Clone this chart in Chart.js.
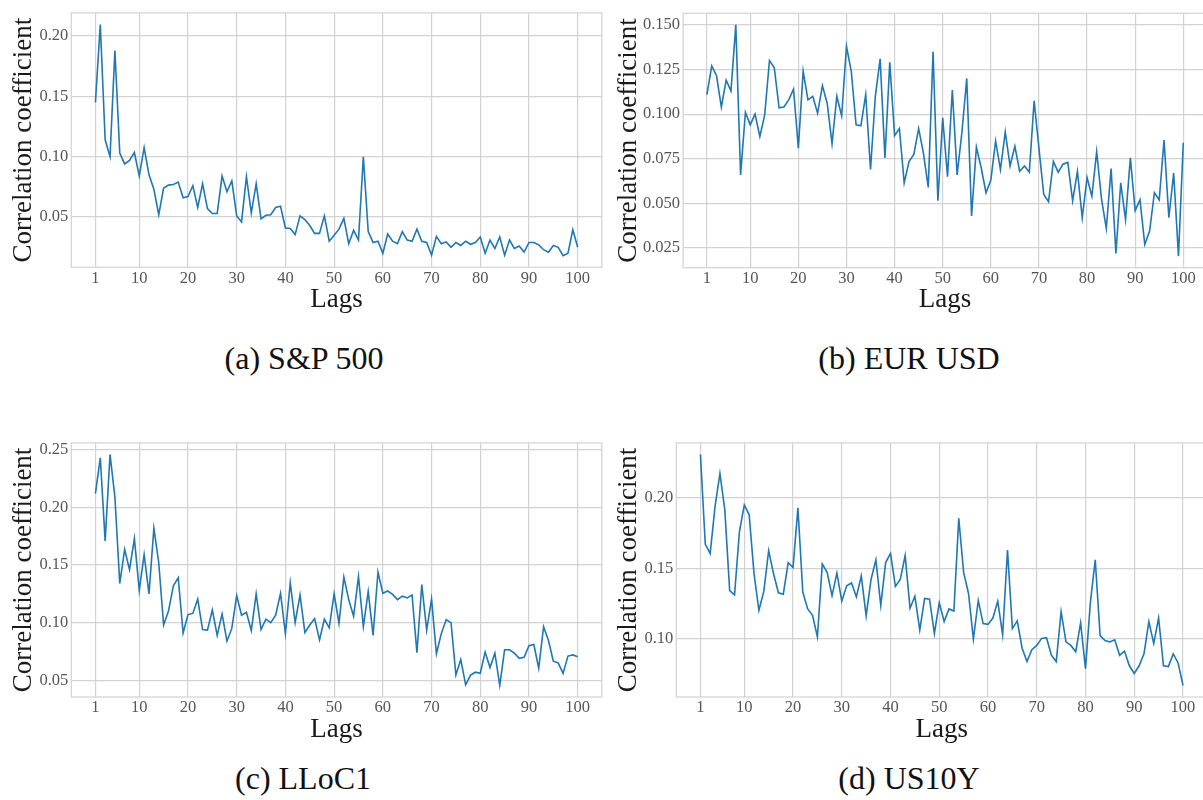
<!DOCTYPE html>
<html>
<head>
<meta charset="utf-8">
<script src="https://cdn.jsdelivr.net/npm/chart.js@4.4.1/dist/chart.umd.min.js"></script>
<style>
  html, body { margin: 0; padding: 0; background: #fff; overflow: hidden; width: 1203px; height: 800px; }
  canvas { position: absolute; }
  .caption {
    position: absolute;
    font-family: "Liberation Serif", serif;
    font-size: 32px;
    line-height: 32px;
    color: #111;
    white-space: nowrap;
    transform: translateX(-50%);
  }
</style>
</head>
<body>
<canvas id="sp500" width="604" height="320" style="left:0;top:0"></canvas>
<canvas id="eurusd" width="605" height="320" style="left:605px;top:0"></canvas>
<canvas id="lloc1" width="604" height="320" style="left:0;top:430px"></canvas>
<canvas id="us10y" width="605" height="320" style="left:605px;top:430px"></canvas>

<div class="caption" style="left:304px;top:342px">(a) S&amp;P 500</div>
<div class="caption" style="left:909px;top:342px">(b) EUR USD</div>
<div class="caption" style="left:303px;top:762px">(c) LLoC1</div>
<div class="caption" style="left:909px;top:762px">(d) US10Y</div>

<script>
const lags = Array.from({ length: 100 }, (_, i) => i + 1);
const lagTicks = [1, 10, 20, 30, 40, 50, 60, 70, 80, 90, 100];

const sp500 = [
  0.145, 0.2095, 0.114, 0.100, 0.188, 0.103, 0.094, 0.097, 0.1035, 0.084,
  0.1075, 0.085, 0.073, 0.052, 0.074, 0.0765, 0.077, 0.079, 0.066, 0.067,
  0.076, 0.058, 0.0775, 0.057, 0.053, 0.053, 0.084, 0.071, 0.080, 0.051,
  0.046, 0.0835, 0.0535, 0.0775, 0.0485, 0.0515, 0.052, 0.058, 0.059, 0.041,
  0.0405, 0.0355, 0.051, 0.048, 0.043, 0.0365, 0.0365, 0.051, 0.030, 0.035,
  0.040, 0.049, 0.028, 0.039, 0.031, 0.100, 0.038, 0.029, 0.030, 0.020,
  0.036, 0.030, 0.028, 0.038, 0.031, 0.030, 0.040, 0.030, 0.029, 0.0185,
  0.034, 0.028, 0.0295, 0.025, 0.029, 0.0265, 0.030, 0.0275, 0.029, 0.0335,
  0.020, 0.031, 0.024, 0.0335, 0.0185, 0.031, 0.024, 0.026, 0.021, 0.029,
  0.029, 0.027, 0.023, 0.021, 0.0265, 0.025, 0.018, 0.020, 0.0395, 0.025
];
const eurusd = [
  0.111, 0.127, 0.1215, 0.104, 0.119, 0.113, 0.150, 0.066, 0.101, 0.094,
  0.100, 0.0875, 0.0995, 0.130, 0.126, 0.1035, 0.104, 0.108, 0.114, 0.081,
  0.124, 0.108, 0.110, 0.1005, 0.116, 0.106, 0.0835, 0.110, 0.099, 0.138,
  0.124, 0.094, 0.0935, 0.111, 0.069, 0.110, 0.131, 0.0755, 0.129, 0.088,
  0.092, 0.0615, 0.0735, 0.0775, 0.092, 0.078, 0.059, 0.135, 0.0515, 0.098,
  0.065, 0.1135, 0.066, 0.090, 0.120, 0.043, 0.0815, 0.070, 0.056, 0.063,
  0.085, 0.069, 0.090, 0.071, 0.082, 0.068, 0.071, 0.0675, 0.1075, 0.081,
  0.055, 0.051, 0.0735, 0.0675, 0.072, 0.073, 0.0515, 0.068, 0.042, 0.0645,
  0.054, 0.079, 0.0525, 0.036, 0.0695, 0.022, 0.0615, 0.041, 0.0755, 0.046,
  0.052, 0.027, 0.0345, 0.056, 0.052, 0.0855, 0.042, 0.067, 0.0205, 0.084
];
const lloc1 = [
  0.212, 0.243, 0.171, 0.246, 0.209, 0.134, 0.1635, 0.146, 0.173, 0.128,
  0.159, 0.125, 0.182, 0.152, 0.098, 0.110, 0.132, 0.139, 0.091, 0.107,
  0.108, 0.1205, 0.094, 0.0935, 0.111, 0.089, 0.1075, 0.084, 0.095, 0.1235,
  0.1065, 0.109, 0.093, 0.125, 0.094, 0.103, 0.100, 0.1065, 0.1255, 0.0905,
  0.1345, 0.100, 0.124, 0.0915, 0.098, 0.1035, 0.085, 0.103, 0.0955, 0.125,
  0.0995, 0.1395, 0.120, 0.1055, 0.140, 0.0965, 0.127, 0.089, 0.144, 0.1255,
  0.1275, 0.1245, 0.120, 0.123, 0.1215, 0.124, 0.074, 0.133, 0.0935, 0.1205,
  0.073, 0.0905, 0.1025, 0.100, 0.0545, 0.068, 0.046, 0.0545, 0.057, 0.056,
  0.0745, 0.061, 0.0735, 0.0455, 0.0765, 0.0765, 0.0735, 0.069, 0.070, 0.080,
  0.081, 0.0605, 0.0965, 0.0845, 0.0665, 0.065, 0.056, 0.071, 0.072, 0.0705
];
const us10y = [
  0.231, 0.167, 0.1605, 0.194, 0.2175, 0.1915, 0.134, 0.131, 0.176, 0.195,
  0.188, 0.146, 0.120, 0.1335, 0.1625, 0.146, 0.1325, 0.1315, 0.154, 0.1505,
  0.193, 0.133, 0.121, 0.1165, 0.101, 0.153, 0.147, 0.1305, 0.1465, 0.1265,
  0.1375, 0.1395, 0.1295, 0.1445, 0.116, 0.142, 0.156, 0.1235, 0.154, 0.1605,
  0.137, 0.142, 0.159, 0.1215, 0.130, 0.106, 0.1285, 0.128, 0.1035, 0.1255,
  0.112, 0.121, 0.1195, 0.1855, 0.147, 0.132, 0.0995, 0.127, 0.1105, 0.110,
  0.1145, 0.1265, 0.1025, 0.163, 0.107, 0.1125, 0.093, 0.0835, 0.092, 0.095,
  0.100, 0.1005, 0.088, 0.0835, 0.119, 0.0975, 0.095, 0.0905, 0.111, 0.0785,
  0.1255, 0.156, 0.102, 0.0985, 0.0975, 0.099, 0.088, 0.091, 0.0805, 0.075,
  0.0805, 0.089, 0.112, 0.0965, 0.1145, 0.0805, 0.080, 0.089, 0.0825, 0.0665
];

const sp500Ticks = [0.05, 0.10, 0.15, 0.20];
const eurusdTicks = [0.025, 0.050, 0.075, 0.100, 0.125, 0.150];
const lloc1Ticks = [0.05, 0.10, 0.15, 0.20, 0.25];
const us10yTicks = [0.10, 0.15, 0.20];

const SERIF = '"Liberation Serif", "Times New Roman", serif';
const GRID = '#d2d2d2';

Chart.defaults.font.family = SERIF;

// 5% padding on each side of the data, like matplotlib's default margins
function padded(values) {
  const lo = Math.min(...values), hi = Math.max(...values);
  const m = (hi - lo) * 0.05;
  return [lo - m, hi + m];
}

// light frame round the plot area
const frame = {
  id: 'frame',
  beforeDatasetsDraw(chart) {
    const { ctx, chartArea: a } = chart;
    ctx.save();
    ctx.strokeStyle = GRID;
    ctx.lineWidth = 1.2;
    ctx.strokeRect(a.left, a.top, a.right - a.left, a.bottom - a.top);
    ctx.restore();
  }
};

function makePanel(id, values, yTicks, decimals, box) {
  const [xMin, xMax] = padded(lags);
  const [yMin, yMax] = padded(values);
  return new Chart(document.getElementById(id), {
    type: 'line',
    data: {
      datasets: [{
        data: lags.map((lag, i) => ({ x: lag, y: values[i] })),
        borderColor: '#1f77b4',
        borderWidth: 1.6,
        pointRadius: 0,
        tension: 0,
        fill: false
      }]
    },
    options: {
      responsive: false,
      animation: false,
      devicePixelRatio: 1,
      layout: { padding: { top: box.top, right: box.right, left: 0, bottom: 0 } },
      plugins: { legend: { display: false }, tooltip: { enabled: false } },
      scales: {
        x: {
          type: 'linear',
          min: xMin,
          max: xMax,
          afterBuildTicks: s => { s.ticks = lagTicks.map(v => ({ value: v })); },
          afterFit: s => { s.height = box.xAxis; },
          grid: { color: GRID, lineWidth: 1.2, drawTicks: false },
          border: { display: false },
          ticks: {
            autoSkip: false,
            maxRotation: 0,
            padding: 1,
            color: '#555',
            font: { family: SERIF, size: 16.5 },
            callback: v => v
          },
          title: {
            display: true,
            text: 'Lags',
            color: '#1a1a1a',
            font: { family: SERIF, size: 27, lineHeight: 1 },
            padding: { top: 0, bottom: 6.5 }
          }
        },
        y: {
          min: yMin,
          max: yMax,
          afterBuildTicks: s => { s.ticks = yTicks.map(v => ({ value: v })); },
          afterFit: s => { s.width = box.yAxis; },
          grid: { color: GRID, lineWidth: 1.2, drawTicks: false },
          border: { display: false },
          ticks: {
            padding: 3,
            color: '#555',
            font: { family: SERIF, size: 16.5 },
            callback: v => v.toFixed(decimals)
          },
          title: {
            display: true,
            text: 'Correlation coefficient',
            color: '#1a1a1a',
            font: { family: SERIF, size: 27, lineHeight: 1 },
            padding: { top: 10, bottom: 0 }
          }
        }
      }
    },
    plugins: [frame]
  });
}

makePanel('sp500', sp500, sp500Ticks, 2, { yAxis: 71.3, xAxis: 52.7, top: 9.3, right: 2.2 });
makePanel('eurusd', eurusd, eurusdTicks, 3, { yAxis: 78.1, xAxis: 52.3, top: 13.3, right: 2.9 });
makePanel('lloc1', lloc1, lloc1Ticks, 2, { yAxis: 71.3, xAxis: 53, top: 9, right: 2.2 });
makePanel('us10y', us10y, us10yTicks, 2, { yAxis: 71.3, xAxis: 53, top: 8.3, right: 2.9 });
</script>
</body>
</html>
